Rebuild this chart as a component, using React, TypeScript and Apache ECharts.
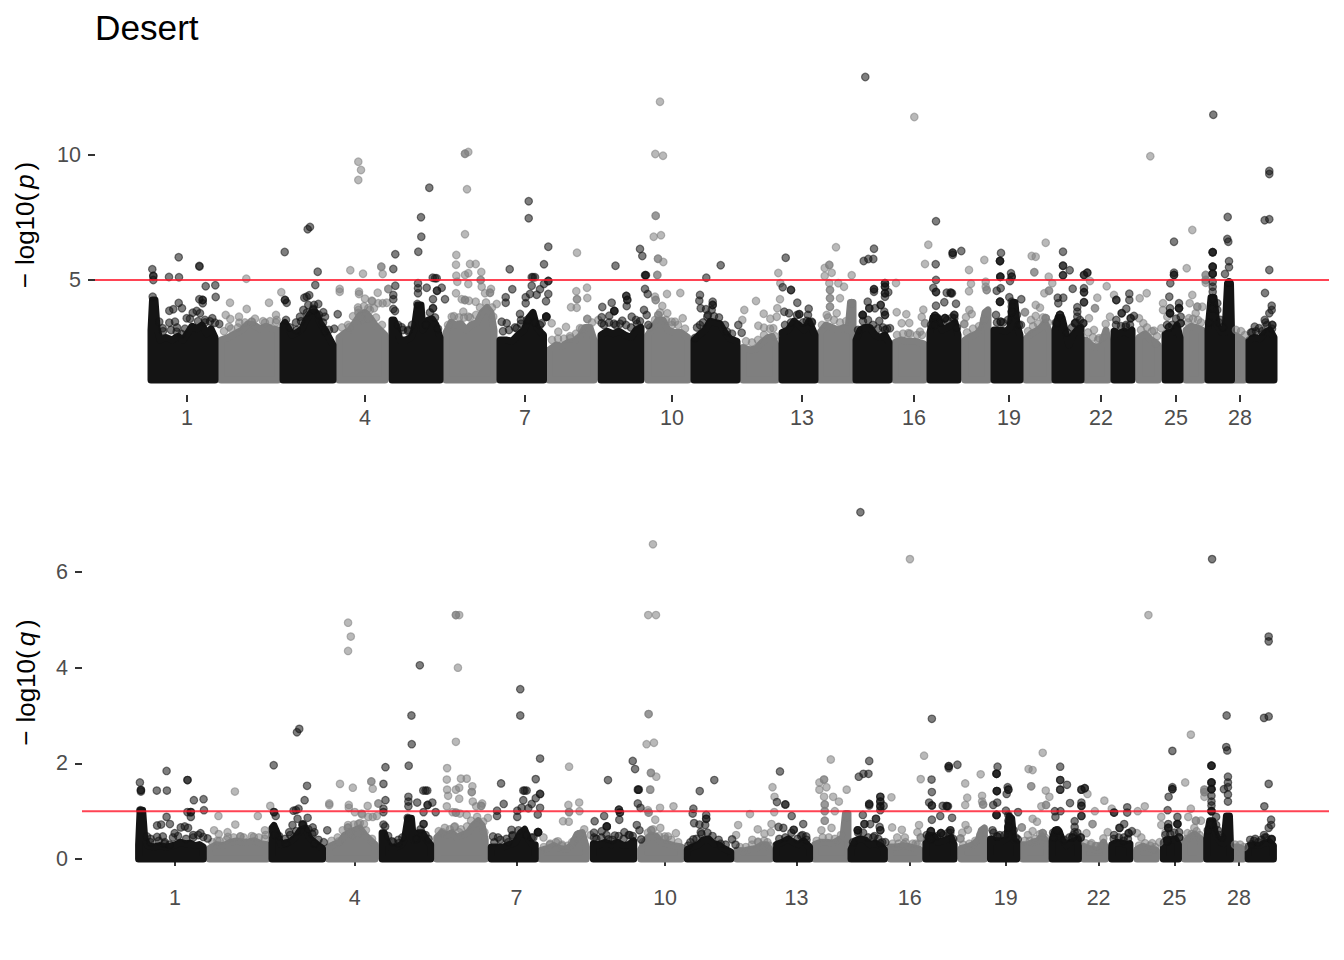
import React, { useEffect, useRef } from "react";
import * as echarts from "echarts";

const FONT = "'Liberation Sans', Arial, sans-serif";
const TITLE = "Desert";
const THRESHOLD_P = 5;
const THRESHOLD_Q = 1;
const POS_MIN = 95;
const POS_MAX = 1329;
const P_RANGE = [0.4, 14];
const Q_RANGE = [-0.335, 7.715];
const P_TICKS = [5, 10];
const Q_TICKS = [0, 2, 4, 6];
const CHROM_LABELS = ["1", "4", "7", "10", "13", "16", "19", "22", "25", "28"];
const CHROM_TICKS = [187, 365, 525, 672, 802, 914, 1009, 1101, 1176, 1240];

// Upper outline of the solid mass of each chromosome: [position, -log10(p), -log10(q)]
const massDark: number[][][] = [
  [[151,3.0,0.3],[152.5,4.2,1.02],[155,4.2,1.02],[157,3.1,0.45],[160,2.6,0.28],[166,2.7,0.25],[172,2.6,0.28],[178,2.75,0.25],[183,2.6,0.27],[188,2.9,0.3],[192,3.15,0.35],[197,3.05,0.32],[202,3.2,0.33],[207,2.85,0.28],[211,3.05,0.3],[215,2.7,0.25]],
  [[283,3.2,0.65],[285,3.3,0.7],[288,3.1,0.55],[292,2.8,0.3],[297,2.9,0.33],[302,3.05,0.38],[306,3.4,0.45],[311,3.7,0.6],[316,3.7,0.65],[320,3.3,0.45],[325,3.0,0.35],[329,2.7,0.28],[333,2.4,0.22]],
  [[392,3.4,0.55],[394,3.4,0.55],[397,3.1,0.35],[400,2.6,0.25],[406,2.6,0.25],[411,2.7,0.3],[414,3.0,0.4],[417.5,4.0,0.85],[421,4.0,0.85],[423,3.0,0.4],[428,3.4,0.55],[432,3.45,0.55],[436,3.2,0.4],[440,2.7,0.3]],
  [[500,2.6,0.25],[506,2.6,0.25],[512,2.55,0.25],[518,2.8,0.3],[524,3.0,0.35],[529,3.5,0.55],[533,3.7,0.62],[537,3.1,0.4],[541,2.9,0.3],[543.5,2.8,0.3]],
  [[601,2.8,0.32],[607,2.95,0.3],[613,2.85,0.35],[619,2.95,0.3],[625,2.8,0.35],[631,2.7,0.28],[636,3.0,0.3],[641,3.1,0.38]],
  [[694,2.6,0.2],[699,2.8,0.25],[705,3.0,0.3],[710,3.35,0.4],[715,3.3,0.42],[720,3.25,0.32],[725,2.9,0.3],[730,2.65,0.22],[737,2.55,0.15]],
  [[782,2.9,0.3],[788,3.0,0.35],[794,3.35,0.42],[799,3.2,0.35],[804,3.0,0.3],[809,3.35,0.38],[815,2.8,0.25]],
  [[856,2.6,0.2],[860,3.0,0.38],[865,3.1,0.42],[870,3.1,0.4],[875,2.8,0.3],[880,2.7,0.33],[885,2.8,0.28],[889,2.5,0.2]],
  [[930,2.9,0.35],[933,3.5,0.5],[938,3.5,0.48],[942,3.0,0.35],[947,3.1,0.38],[952,3.2,0.42],[955,3.3,0.45],[958,2.8,0.3]],
  [[994,3.0,0.42],[1000,3.0,0.38],[1006,2.95,0.38],[1010,3.1,0.42],[1012.5,4.1,0.9],[1015,4.1,0.85],[1017,3.2,0.4],[1020,2.8,0.35]],
  [[1055,3.0,0.42],[1058,3.5,0.6],[1062,3.5,0.58],[1065,3.0,0.4],[1069,2.4,0.28],[1073,2.8,0.35],[1077,3.0,0.38],[1081,3.1,0.42]],
  [[1114,2.95,0.3],[1119,2.85,0.35],[1124,2.95,0.33],[1129,2.85,0.3],[1132,3.0,0.32]],
  [[1165,2.85,0.35],[1169,2.9,0.42],[1173,2.9,0.4],[1177,3.2,0.42],[1180,2.7,0.3]],
  [[1208,3.0,0.45],[1211,4.3,0.8],[1214,4.3,0.8],[1217,3.2,0.5],[1222,2.9,0.35],[1225,2.9,0.32],[1227.5,4.85,0.9],[1230.5,4.85,0.9],[1231.5,3.0,0.3]],
  [[1249,2.6,0.27],[1254,2.7,0.3],[1260,2.65,0.28],[1265,2.9,0.33],[1270,3.0,0.36],[1274,2.7,0.28]],
];
const massGrey: number[][][] = [
  [[221,2.6,0.22],[228,2.7,0.3],[235,2.85,0.28],[242,3.0,0.35],[248,3.25,0.38],[254,3.2,0.35],[260,3.05,0.36],[266,3.15,0.38],[272,3.05,0.32],[278,3.0,0.3]],
  [[339,2.7,0.25],[344,2.85,0.3],[350,3.0,0.35],[355,3.3,0.5],[360,3.6,0.55],[365,3.7,0.6],[370,3.5,0.65],[375,3.2,0.5],[380,3.0,0.4],[385,2.8,0.3]],
  [[446,2.9,0.45],[451,3.3,0.55],[456,3.2,0.5],[461,3.25,0.55],[466,3.0,0.45],[471,3.2,0.5],[477,3.3,0.55],[482,3.7,0.7],[487,3.9,0.8],[491,3.7,0.7],[494,3.0,0.4]],
  [[549,2.2,0.18],[556,2.4,0.22],[562,2.35,0.28],[568,2.5,0.22],[574,2.55,0.2],[580,2.75,0.3],[585,3.1,0.52],[590,3.1,0.55],[594,2.6,0.25]],
  [[648,2.8,0.2],[653,3.1,0.4],[658,3.4,0.5],[663,3.4,0.48],[668,3.0,0.35],[674,2.9,0.32],[681,2.9,0.28],[688,2.7,0.25]],
  [[743,2.3,0.18],[750,2.2,0.17],[756,2.25,0.2],[762,2.5,0.22],[768,2.7,0.3],[772,2.75,0.3],[776,2.4,0.2]],
  [[820,2.9,0.3],[826,3.2,0.35],[832,3.1,0.35],[838,3.0,0.33],[844,3.1,0.4],[848,3.0,0.45],[850.5,4.1,0.95],[853,4.1,0.95]],
  [[895,2.5,0.25],[901,2.6,0.25],[908,2.55,0.28],[915,2.55,0.25],[924,2.45,0.2]],
  [[965,2.6,0.22],[971,2.75,0.25],[977,2.85,0.3],[982,3.1,0.4],[985,3.7,0.6],[988,3.8,0.65]],
  [[1026,2.65,0.3],[1031,2.85,0.3],[1036,2.95,0.35],[1041,3.1,0.38],[1045,3.3,0.48],[1050,2.9,0.35]],
  [[1086,2.6,0.27],[1091,2.4,0.22],[1096,2.3,0.2],[1101,2.35,0.18],[1106,3.0,0.35],[1108,2.5,0.22]],
  [[1139,2.7,0.2],[1145,2.85,0.27],[1150,2.65,0.22],[1158,2.4,0.18]],
  [[1186,3.0,0.35],[1191,3.15,0.45],[1196,3.1,0.52],[1202,3.0,0.42]],
  [[1234,2.8,0.25],[1239,2.7,0.25],[1244,2.55,0.2]],
];

// Markers crowded just above the solid mass: [position, -log10(p), -log10(q)]
const fringeDark: number[][] = [
  [163,2.95,0.42],[171,3.0,0.38],[177,3.1,0.35],[185,3.05,0.45],[190,3.45,0.48],[198,3.35,0.42],[205,3.3,0.45],[210,3.35,0.5],
  [290,3.1,0.48],[296,3.3,0.42],[301,3.35,0.5],[307,3.7,0.58],[314,4.0,0.72],[319,3.6,0.62],[323,3.3,0.52],[329,3.0,0.4],
  [398,3.2,0.48],[403,3.0,0.35],[408,2.95,0.4],[412,3.2,0.45],[426,3.2,0.42],[430,3.7,0.62],[435,3.5,0.5],[438,3.05,0.42],
  [503,2.95,0.35],[509,3.0,0.4],[515,3.1,0.42],[521,3.25,0.48],[527,3.4,0.6],[535,3.3,0.5],[540,3.2,0.45],
  [604,3.2,0.42],[609,3.3,0.45],[614,3.25,0.5],[620,3.25,0.4],[626,3.2,0.48],[631,3.1,0.42],[637,3.25,0.5],[640,3.35,0.48],
  [697,3.1,0.35],[703,3.3,0.42],[708,3.6,0.52],[714,3.55,0.55],[719,3.5,0.48],[725,3.2,0.4],[732,2.85,0.3],
  [785,3.2,0.42],[791,3.3,0.45],[797,3.6,0.55],[803,3.3,0.42],[808,3.6,0.5],[812,3.3,0.4],
  [858,3.0,0.35],[863,3.35,0.55],[868,3.4,0.55],[873,3.2,0.45],[878,3.05,0.45],[883,3.1,0.42],[887,3.05,0.35],
  [931,3.2,0.5],[941,3.3,0.48],[947,3.4,0.5],[952,3.5,0.55],[957,3.1,0.42],
  [997,3.3,0.55],[1003,3.3,0.5],[1008,3.4,0.5],[1017,3.6,0.6],[1019,3.2,0.45],
  [1056,3.3,0.55],[1067,2.9,0.4],[1072,3.1,0.45],[1076,3.3,0.5],[1080,3.4,0.55],
  [1116,3.2,0.42],[1121,3.15,0.45],[1126,3.2,0.45],[1130,3.2,0.42],
  [1167,3.2,0.5],[1172,3.2,0.52],[1176,3.45,0.55],
  [1209,3.3,0.6],[1219,3.3,0.6],[1223,3.1,0.45],
  [1251,2.9,0.4],[1256,2.95,0.42],[1262,2.95,0.4],[1267,3.2,0.45],[1272,3.05,0.42],
];
const fringeGrey: number[][] = [
  [224,2.95,0.35],[231,3.05,0.38],[238,3.1,0.4],[245,3.3,0.45],[255,3.45,0.45],[263,3.35,0.48],[270,3.35,0.45],[276,3.3,0.42],
  [342,3.1,0.38],[348,3.2,0.45],[353,3.55,0.6],[358,3.9,0.65],[364,3.95,0.72],[370,3.8,0.75],[376,3.5,0.6],[382,3.2,0.42],
  [448,3.2,0.58],[454,3.55,0.65],[459,3.5,0.62],[464,3.5,0.68],[470,3.5,0.62],[476,3.6,0.68],[480,3.9,0.8],[486,4.1,0.88],[492,3.9,0.78],
  [552,2.6,0.25],[558,2.65,0.3],[564,2.65,0.35],[570,2.75,0.3],[576,2.85,0.28],[582,3.05,0.38],[592,3.3,0.62],
  [650,3.1,0.35],[655,3.4,0.55],[660,3.7,0.62],[666,3.4,0.48],[672,3.2,0.42],[678,3.2,0.4],[685,3.05,0.35],
  [746,2.55,0.25],[752,2.5,0.25],[758,2.6,0.3],[764,2.8,0.35],[770,3.05,0.38],[775,2.75,0.28],
  [822,3.2,0.38],[828,3.5,0.45],[834,3.4,0.45],[840,3.3,0.42],[846,3.35,0.5],
  [897,2.8,0.32],[903,2.85,0.32],[910,2.85,0.35],[917,2.8,0.32],[922,2.8,0.3],
  [967,2.9,0.3],[973,3.05,0.32],[979,3.15,0.38],[984,3.4,0.5],
  [1028,2.95,0.38],[1033,3.15,0.38],[1038,3.25,0.42],[1043,3.5,0.52],[1048,3.3,0.45],
  [1088,2.9,0.33],[1093,2.7,0.3],[1098,2.6,0.27],[1103,2.7,0.28],
  [1141,3.0,0.28],[1147,3.1,0.33],[1152,2.95,0.28],[1157,2.75,0.25],
  [1188,3.3,0.42],[1193,3.45,0.52],[1198,3.4,0.58],[1201,3.3,0.5],
  [1236,3.0,0.3],[1241,2.95,0.3],[1245,2.8,0.25],
];

// Individual markers: [position, -log10(p), -log10(q)]
const darkPoints: number[][] = [
  [152.3,5.43,1.6],[153.3,5.16,1.44],[153.3,5.16,1.44],[153.3,5.0,1.41],[178.7,5.91,1.84],[169,5.12,1.43],[179,5.11,1.43],[199.3,5.56,1.65],[199.5,5.54,1.65],[205.7,4.75,1.23],[215.3,4.79,1.25],[215.7,4.32,1.02],[202.7,4.2,0.98],[202.7,4.2,0.98],[199.3,4.23,0.98],[202.7,4.07,0.88],[178.7,4.08,0.88],[182,3.87,0.73],[173.3,3.83,0.72],[169.3,3.77,0.7],[196.7,3.76,0.68],[192.7,3.69,0.66],[200,3.67,0.65],[186.7,3.47,0.54],[212.3,3.47,0.54],[205,3.4,0.5],[215,3.29,0.46],[219.3,3.24,0.43],[159.3,3.33,0.47],[169.3,3.29,0.46],[175,3.33,0.47],[152.7,4.33,1.02],[162.7,3.07,0.35],[176.7,2.93,0.32],[181.7,2.84,0.3],
  [307.7,7.03,2.65],[310,7.12,2.72],[284.7,6.12,1.96],[317.7,5.33,1.53],[315.3,4.8,1.23],[285,4.2,0.98],[285,4.2,0.98],[286.7,4.09,0.9],[304.3,4.29,1.01],[309.3,4.39,1.05],[306.7,4.33,1.02],[318.3,4.04,0.86],[308.3,4.0,0.84],[313.3,3.8,0.71],[313.3,3.8,0.71],[313.3,3.85,0.73],[323.3,3.71,0.66],[300,3.53,0.56],[303.3,3.8,0.71],[325,3.53,0.56],[286,3.4,0.5],[337.7,3.63,0.6],[334.3,3.05,0.35],[325,2.93,0.32],[296.7,3.0,0.33],
  [395.3,6.03,1.92],[393.3,5.44,1.57],[395.3,4.77,1.23],[393.3,4.4,1.05],[393.3,4.23,0.98],[393.3,3.84,0.72],[395,3.76,0.68],[429.3,8.69,4.05],[421,7.51,3.0],[421.3,6.73,2.4],[418.3,6.13,1.95],[418,4.87,1.3],[418,4.67,1.2],[418,4.47,1.1],[417.3,4.04,0.86],[432.7,5.09,1.43],[436.7,5.07,1.43],[435,5.07,1.43],[426.7,4.69,1.18],[437,4.57,1.13],[437,4.57,1.13],[441.7,4.69,1.18],[433,4.23,0.98],[445,4.23,0.98],[433,3.87,0.73],[433,3.87,0.73],[408.3,3.0,0.33],[401.7,3.11,0.37],
  [528.7,8.15,3.55],[528.7,7.47,3.0],[548.3,6.33,2.1],[509.7,5.43,1.58],[544,5.63,1.67],[531.7,5.11,1.43],[535,5.11,1.43],[533,5.11,1.43],[548.3,4.96,1.36],[548.3,4.96,1.36],[544,4.84,1.27],[531.7,4.77,1.23],[512.3,4.63,1.15],[540,4.63,1.15],[505.7,4.31,1.01],[505.7,4.09,0.9],[536.7,4.41,1.06],[530,4.44,1.07],[525.7,4.31,1.01],[548.3,4.44,1.07],[546,4.15,0.93],[525.7,4.07,0.88],[546.3,3.53,0.56],[546.3,3.53,0.56],[546.3,3.53,0.56],[546.3,3.53,0.56],[520,3.64,0.61],[521,3.4,0.5],[501.7,3.33,0.47],[506.7,3.27,0.45],[516.7,3.07,0.35],[541.7,3.27,0.45],
  [615.5,5.57,1.65],[626.3,4.36,1.03],[626.3,4.36,1.03],[627.3,4.2,0.97],[627.3,4.2,0.97],[611.7,4.09,0.9],[602.3,3.92,0.79],[626.7,3.96,0.82],[614.3,3.76,0.68],[614.3,3.76,0.68],[614.3,3.76,0.68],[609.3,3.57,0.58],[601.7,3.51,0.55],[601.7,3.27,0.45],[622.3,3.37,0.49],[615.7,3.2,0.41],[631.7,3.53,0.56],[636,3.4,0.5],[640,6.24,2.05],[642.3,5.96,1.88],[645,5.19,1.45],[646,5.19,1.45],[645.5,5.19,1.45],[645,4.64,1.16],[647.7,4.44,1.07],[644,3.8,0.71],[646.7,3.6,0.6],[648.3,3.2,0.41],
  [720.7,5.59,1.65],[706.3,5.09,1.42],[700,4.4,1.05],[699.3,4.17,0.95],[700.7,3.87,0.75],[712.7,4.13,0.92],[712.7,4.0,0.84],[712.7,4.0,0.84],[706,3.83,0.72],[711.7,3.8,0.71],[707.3,3.53,0.56],[700,3.2,0.41],[695,2.68,0.28],[727,2.93,0.32],[738.3,3.2,0.41],[741.7,2.89,0.3],
  [785.7,5.89,1.83],[782.7,4.71,1.19],[791,4.6,1.14],[791,4.6,1.14],[797.3,4.09,0.9],[784.3,3.73,0.67],[789,3.67,0.65],[799.3,3.63,0.61],[799.3,3.63,0.61],[808.7,3.85,0.73],[806.7,3.36,0.48],[811.7,3.33,0.47],
  [865.3,13.12,7.25],[874,6.25,2.05],[863.7,5.76,1.72],[868.3,5.84,1.78],[873.3,5.84,1.78],[885,4.87,1.3],[885,4.87,1.3],[885,4.73,1.2],[885,4.73,1.2],[874,4.63,1.15],[874,4.63,1.15],[874,4.53,1.12],[885,4.47,1.1],[885,4.47,1.1],[888.3,4.51,1.11],[885,4.33,1.02],[867.7,4.13,0.92],[869.3,3.87,0.73],[869.3,3.87,0.73],[880.7,4.0,0.84],[880.7,4.0,0.84],[884.3,3.73,0.67],[885,3.6,0.6],[885,3.6,0.6],[862.7,3.6,0.6],[862.7,3.6,0.6],[862.7,3.6,0.6],[875,3.87,0.73],[879.3,3.36,0.48],[890,3.07,0.35],[885,3.0,0.33],
  [936,7.35,2.93],[935.7,5.63,1.66],[936,5.0,1.4],[933.3,4.68,1.18],[936,4.52,1.12],[936,4.52,1.12],[952.7,6.09,1.94],[952.7,6.09,1.94],[952.7,6.01,1.9],[961.3,6.16,1.97],[946.7,4.49,1.11],[952,4.47,1.1],[951,4.47,1.1],[950.5,4.5,1.11],[944.3,4.11,0.9],[956,4.05,0.86],[936,3.97,0.82],[935,3.56,0.58],[935,3.56,0.58],[935,3.56,0.58],[945,3.47,0.54],[945,3.47,0.54],[945,3.47,0.54],[954.3,3.6,0.6],[954.3,3.6,0.6],[954.3,3.47,0.55],[935,3.2,0.41],
  [1001,6.08,1.93],[1000,5.76,1.78],[1000,5.76,1.78],[1000,5.76,1.78],[1000.3,5.13,1.42],[1000.3,5.13,1.42],[1000.3,5.13,1.42],[1011,5.27,1.5],[1011.7,5.13,1.45],[1011.7,5.13,1.45],[1010,4.96,1.36],[996.7,4.57,1.13],[1000.7,4.67,1.18],[1000,4.13,0.92],[1000,4.13,0.92],[1000,4.13,0.92],[1009.3,4.31,1.01],[1011.7,4.13,0.92],[1011.7,3.93,0.8],[1011.7,3.73,0.67],[1011.7,3.73,0.67],[1021.3,4.23,0.98],[996,3.6,0.6],[1000.7,3.33,0.47],[1000.7,3.33,0.47],[1021,3.2,0.41],
  [1063,6.13,1.93],[1063,5.57,1.65],[1063,5.57,1.65],[1069.7,5.39,1.55],[1063,5.19,1.45],[1063,5.19,1.45],[1084,5.2,1.45],[1084,5.2,1.45],[1087.3,5.29,1.48],[1087.3,5.29,1.48],[1084,4.67,1.18],[1084,4.51,1.11],[1084,4.51,1.11],[1084,4.11,0.9],[1084,4.11,0.9],[1072.7,4.65,1.17],[1057.7,4.29,1.0],[1063.3,4.29,1.0],[1058.3,4.07,0.88],[1060,3.6,0.6],[1060,3.6,0.6],[1060,3.6,0.6],[1077.3,3.91,0.79],[1077.3,3.73,0.67],[1077.3,3.53,0.56],[1056.7,3.27,0.45],[1075,3.27,0.45],[1075,3.27,0.45],[1083.3,3.27,0.45],[1083.3,3.27,0.45],
  [1129.3,4.45,1.08],[1129.3,4.2,0.97],[1116.3,4.2,0.97],[1116.3,4.2,0.97],[1126.3,3.85,0.73],[1121.7,3.67,0.65],[1121.7,3.67,0.65],[1116.3,3.4,0.5],[1130.7,3.47,0.54],[1130.7,3.47,0.54],[1134,3.56,0.58],[1125.7,3.13,0.38],
  [1174,6.53,2.26],[1174,5.29,1.5],[1174,5.2,1.46],[1174,5.2,1.46],[1170.3,4.87,1.3],[1169.3,4.33,1.02],[1179,4.07,0.88],[1179,3.87,0.73],[1179,3.87,0.73],[1179,3.87,0.73],[1170,3.87,0.73],[1170,3.67,0.65],[1170,3.67,0.65],[1170,3.67,0.65],[1180.7,3.53,0.56],[1180.7,3.27,0.45],[1180.7,3.27,0.45],[1169,3.11,0.37],[1169,3.11,0.37],
  [1213.3,11.61,6.27],[1227.7,7.52,3.0],[1227.3,6.64,2.34],[1228.3,6.53,2.27],[1212.7,6.11,1.95],[1212.7,6.11,1.95],[1212.7,6.11,1.95],[1229,5.75,1.72],[1229,5.51,1.6],[1225,5.24,1.46],[1212.7,5.53,1.6],[1212.7,5.53,1.6],[1212.7,5.53,1.6],[1212.7,5.25,1.46],[1212.7,5.25,1.46],[1212.7,5.25,1.46],[1212.7,4.93,1.32],[1212.7,4.73,1.2],[1212.7,4.53,1.12],[1212.7,4.27,1.0],[1212.7,4.27,1.0],[1212.7,4.27,1.0],[1212.7,3.87,0.73],[1212.7,3.87,0.73],[1212.7,3.87,0.73],[1217.3,4.07,0.88],[1217.3,3.8,0.71],[1220.7,3.4,0.5],[1229,4.9,1.5],[1229,4.9,1.35],[1229,4.9,1.2],
  [1269.3,9.36,4.65],[1269.3,9.24,4.55],[1264.7,7.39,2.95],[1269.3,7.43,2.98],[1269.3,5.4,1.57],[1265,4.48,1.1],[1271.7,3.97,0.82],[1271.7,3.8,0.71],[1269.3,3.67,0.65],[1264.7,3.4,0.5],[1265.5,3.3,0.45],[1272.3,3.2,0.41],[1272.3,3.2,0.41],[1254.7,3.13,0.38],[1252.3,2.91,0.31],[1259,3.07,0.35],
];
const greyPoints: number[][] = [
  [246.3,5.05,1.41],[230,4.09,0.9],[246.7,3.84,0.72],[269,4.09,0.9],[281.3,4.51,1.11],[225.7,3.6,0.6],[230.3,3.44,0.52],[239,3.53,0.56],[239.3,3.29,0.46],[229,3.13,0.38],[276,3.6,0.6],[251.7,3.33,0.47],[251.7,3.33,0.47],[265,3.29,0.46],[276.7,3.4,0.5],
  [350.3,5.39,1.57],[363,5.25,1.49],[358.3,9.73,4.94],[361,9.4,4.65],[358.3,9.0,4.35],[339.7,4.64,1.16],[339.7,4.53,1.13],[359,4.53,1.13],[359,4.44,1.07],[365,4.25,0.98],[372.3,4.15,0.93],[377.7,4.49,1.11],[358.3,3.8,0.71],[358.3,3.68,0.66],[368.3,3.87,0.73],[374,3.87,0.73],[378.3,4.07,0.88],[349.3,3.11,0.37],[363.3,3.4,0.5],[366.7,3.6,0.6],[381.3,5.53,1.62],[381.3,5.53,1.62],[382.7,5.24,1.47],[371.7,4.17,0.95],[382.7,4.07,0.88],[388.3,4.64,1.16],[388.3,4.64,1.16],[386.7,4.09,0.9],[368.3,3.47,0.54],[360,3.53,0.56],
  [465,10.05,5.1],[465,10.05,5.1],[468.3,10.12,5.1],[467,8.63,4.0],[465,6.83,2.45],[456.3,6.0,1.9],[456,5.61,1.66],[470,5.64,1.68],[475.7,5.64,1.68],[456.3,5.17,1.45],[465,5.2,1.45],[468.3,5.27,1.49],[481.3,5.32,1.52],[457.3,4.93,1.32],[468.3,4.84,1.26],[480.7,5.0,1.4],[480.7,5.0,1.4],[481.7,4.73,1.2],[456,4.47,1.1],[485,4.47,1.1],[491,4.64,1.16],[490,4.49,1.11],[490,4.49,1.11],[461.7,4.23,0.98],[465,4.2,0.97],[465,4.2,0.97],[469,4.17,0.95],[475.7,4.13,0.92],[496.7,4.04,0.86],[463.3,3.73,0.67],[468.3,3.53,0.56],[493.3,3.53,0.56],[451.7,3.53,0.56],
  [577,6.09,1.93],[576.3,4.55,1.13],[587,4.69,1.18],[577,4.23,0.98],[577,4.23,0.98],[587.3,4.28,1.0],[571,3.91,0.79],[576.7,3.89,0.78],[587.3,3.44,0.52],[587.3,3.44,0.52],[551.7,3.27,0.45],[558.3,2.93,0.32],[566,3.12,0.37],[570,2.67,0.27],[580,3.07,0.35],[598.3,3.4,0.5],
  [660,12.13,6.58],[655.3,10.04,5.1],[663,9.97,5.1],[655.7,7.57,3.03],[655.7,7.57,3.03],[653.7,6.73,2.4],[661,6.79,2.43],[658,5.85,1.8],[658,5.85,1.8],[663.3,5.72,1.72],[657.3,5.2,1.45],[657.3,5.2,1.45],[655,4.33,1.02],[655.7,4.2,0.97],[655.7,4.2,0.97],[667,4.44,1.07],[680.3,4.48,1.1],[662.3,3.96,0.82],[667.3,3.67,0.65],[658.3,3.6,0.6],[658.3,3.6,0.6],[682.7,3.47,0.54],[671.7,3.33,0.47],[675,3.33,0.47],
  [756,4.16,0.94],[744.3,3.8,0.71],[742.3,3.4,0.5],[763.7,3.65,0.62],[770.3,3.45,0.53],[758.3,3.17,0.4],[764,3.09,0.36],[778.3,5.28,1.5],[780.3,4.87,1.3],[780,4.23,0.98],[777.3,3.87,0.73],[776.7,3.53,0.56],[773.3,3.07,0.35],
  [836,6.31,2.08],[824.7,5.48,1.6],[829.3,5.6,1.66],[829.3,5.6,1.66],[824.7,5.16,1.45],[831.7,5.29,1.5],[851.7,5.19,1.45],[829.3,4.87,1.3],[830,4.6,1.14],[830,4.6,1.14],[830,4.27,1.0],[830,4.27,1.0],[838.3,4.87,1.3],[844,4.73,1.2],[840,4.27,1.0],[830,3.93,0.8],[830,3.93,0.8],[826.7,3.6,0.6],[836.7,3.67,0.65],[851.7,4.07,0.88],[851.7,4.07,0.88],
  [896,4.88,1.29],[914.3,11.52,6.27],[928.3,6.41,2.16],[925,5.64,1.67],[896.7,3.71,0.66],[906.3,3.63,0.61],[901.7,3.27,0.45],[909.3,3.28,0.45],[908.3,2.87,0.31],[923.3,3.81,0.71],[921.7,3.52,0.56],[920,2.93,0.32],[925,3.27,0.45],[925,3.27,0.45],
  [984.3,5.8,1.77],[969,5.4,1.58],[971,4.85,1.28],[969,4.55,1.13],[985.7,4.93,1.32],[985.7,4.73,1.2],[986.7,4.6,1.14],[986.7,4.6,1.14],[969.3,3.8,0.71],[971.7,3.64,0.61],[966,3.51,0.55],[964.3,3.24,0.43],[964.3,3.24,0.43],
  [1045.7,6.49,2.22],[1031.7,5.96,1.88],[1035.7,5.93,1.86],[1034.3,5.31,1.52],[1034.3,5.31,1.52],[1048.7,5.13,1.43],[1052.3,4.87,1.3],[1044.3,4.47,1.1],[1049,4.57,1.13],[1049,4.57,1.13],[1025,3.71,0.66],[1025,3.71,0.66],[1040,3.89,0.78],[1035.7,4.0,0.84],[1035.7,3.56,0.58],[1031,3.4,0.5],[1045.7,3.47,0.54],[1045.7,3.47,0.54],[1045.7,3.47,0.54],
  [1106.7,4.75,1.22],[1097.3,4.29,1.0],[1114,4.4,1.05],[1090,4.96,1.36],[1095,3.87,0.73],[1095,3.87,0.73],[1089,3.47,0.54],[1094,3.0,0.33],[1110,3.53,0.56],[1105.7,3.24,0.43],[1099,2.67,0.27],
  [1139.7,4.27,1.0],[1146.7,4.47,1.1],[1150.3,9.95,5.1],[1139,3.47,0.54],[1143.3,3.27,0.45],[1154,2.97,0.33],[1161.3,3.07,0.35],[1155.7,2.47,0.2],
  [1163,4.07,0.88],[1163,3.8,0.71],[1167.3,3.53,0.56],[1192.3,7.0,2.6],[1186.7,5.47,1.6],[1192.3,4.4,1.05],[1189.7,4.07,0.88],[1197.3,3.93,0.8],[1197.3,3.93,0.8],[1202.3,3.93,0.8],[1195.7,3.67,0.65],[1189,3.47,0.54],[1205.7,5.2,1.45],[1205.7,5.2,1.45],[1205.7,5.0,1.4],[1205.7,5.0,1.4],[1205.7,4.89,1.3],
];

const DARK = "#141414";
const GREY = "#7f7f7f";
const DARK_A = "rgba(20,20,20,0.55)";
const GREY_A = "rgba(127,127,127,0.55)";
const RED = "rgba(255,20,40,0.8)";

function massSeries(rows: number[][][], col: number, base: number, fill: string, axis: number) {
  return {
    type: "custom",
    xAxisIndex: axis,
    yAxisIndex: axis,
    silent: true,
    clip: false,
    data: rows.map((r) => [r[0][0], base]),
    encode: { x: 0, y: 1 },
    renderItem: (params: any, api: any) => {
      const r = rows[params.dataIndex];
      const pts = [
        api.coord([r[0][0], base]),
        ...r.map((row) => api.coord([row[0], row[col]])),
        api.coord([r[r.length - 1][0], base]),
      ];
      return {
        type: "polygon",
        shape: { points: pts },
        style: { fill, stroke: fill, lineWidth: 7, lineJoin: "round" },
      };
    },
  };
}

function pointSeries(rows: number[][], col: number, color: string, axis: number) {
  return {
    type: "scatter",
    xAxisIndex: axis,
    yAxisIndex: axis,
    silent: true,
    progressive: 0,
    symbolSize: 7.5,
    itemStyle: { color, borderColor: color, borderWidth: 1.2, opacity: 1 },
    data: rows.map((r) => [r[0], r[col]]),
  };
}

function thresholdSeries(value: number, axis: number) {
  return {
    type: "line",
    xAxisIndex: axis,
    yAxisIndex: axis,
    silent: true,
    symbol: "none",
    lineStyle: { color: RED, width: 2 },
    data: [[POS_MIN, value], [POS_MAX, value]],
    z: 5,
  };
}

function xAxis(gridIndex: number) {
  return {
    type: "value",
    gridIndex,
    min: POS_MIN,
    max: POS_MAX,
    axisLine: { show: false },
    splitLine: { show: false },
    axisTick: { show: true, length: 7, customValues: CHROM_TICKS, lineStyle: { color: "#333333", width: 2 } },
    axisLabel: {
      show: true,
      customValues: CHROM_TICKS,
      margin: 12,
      fontSize: 21.5,
      fontFamily: FONT,
      color: "#4d4d4d",
      formatter: (v: number) => CHROM_LABELS[CHROM_TICKS.indexOf(v)] ?? "",
    },
  };
}

function yAxis(gridIndex: number, range: number[], ticks: number[], letter: string, nameGap: number) {
  return {
    type: "value",
    gridIndex,
    min: range[0],
    max: range[1],
    name: `{m|\u2212}{n|log10(}{i|${letter}}{n|)}`,
    nameLocation: "middle",
    nameGap,
    nameRotate: 90,
    nameTextStyle: {
      rich: {
        m: { fontSize: 26, fontFamily: FONT, color: "#000000", padding: [0, 8, 0, 0] },
        n: { fontSize: 26, fontFamily: FONT, color: "#000000" },
        i: { fontSize: 26, fontFamily: FONT, fontStyle: "italic", color: "#000000", padding: [0, 4, 0, 4] },
      },
    },
    axisLine: { show: false },
    splitLine: { show: false },
    axisTick: { show: true, length: 7, customValues: ticks, lineStyle: { color: "#333333", width: 2 } },
    axisLabel: {
      show: true,
      customValues: ticks,
      margin: 14,
      fontSize: 21.5,
      fontFamily: FONT,
      color: "#4d4d4d",
    },
  };
}

export default function App() {
  const ref = useRef<HTMLDivElement>(null);
  useEffect(() => {
    const chart = echarts.init(ref.current!, null, { renderer: "svg" });
    chart.setOption({
      animation: false,
      backgroundColor: "#ffffff",
      title: {
        text: TITLE,
        left: 95,
        top: 10,
        padding: 0,
        textStyle: { fontSize: 35.2, fontWeight: "normal", fontFamily: FONT, color: "#000000" },
      },
      grid: [
        { left: 95, width: 1234, top: 55, height: 340 },
        { left: 82, width: 1247, top: 490, height: 385 },
      ],
      xAxis: [xAxis(0), xAxis(1)],
      yAxis: [
        yAxis(0, P_RANGE, P_TICKS, "p", 57),
        yAxis(1, Q_RANGE, Q_TICKS, "q", 43),
      ],
      series: [
        massSeries(massGrey, 1, 1, GREY, 0),
        massSeries(massDark, 1, 1, DARK, 0),
        pointSeries([...fringeGrey, ...greyPoints], 1, GREY_A, 0),
        pointSeries([...fringeDark, ...darkPoints], 1, DARK_A, 0),
        thresholdSeries(THRESHOLD_P, 0),
        massSeries(massGrey, 2, 0, GREY, 1),
        massSeries(massDark, 2, 0, DARK, 1),
        pointSeries([...fringeGrey, ...greyPoints], 2, GREY_A, 1),
        pointSeries([...fringeDark, ...darkPoints], 2, DARK_A, 1),
        thresholdSeries(THRESHOLD_Q, 1),
      ],
    });
    return () => chart.dispose();
  }, []);
  return (
    <div
      ref={ref}
      style={{ position: "fixed", left: 0, top: 0, width: 1344, height: 960, background: "#fff" }}
    />
  );
}
